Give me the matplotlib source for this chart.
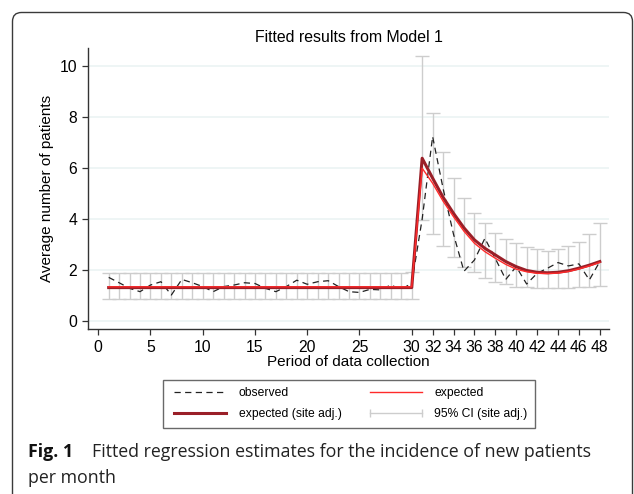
import matplotlib
matplotlib.use("Agg")
import matplotlib.pyplot as plt
from matplotlib.lines import Line2D
from matplotlib.patches import FancyBboxPatch
import numpy as np

# months 1..48
month = list(range(1, 49))

observed = [1.71, 1.50, 1.28, 1.15, 1.41, 1.54, 1.02, 1.63, 1.50, 1.35,
            1.15, 1.35, 1.41, 1.50, 1.47, 1.28, 1.15, 1.35, 1.60, 1.44,
            1.54, 1.58, 1.35, 1.15, 1.12, 1.24, 1.22, 1.41, 1.24, 1.48,
            4.00, 7.23, 5.20, 3.40, 1.95, 2.39, 3.24, 2.45, 1.63, 2.13,
            1.45, 1.87, 2.07, 2.29, 2.16, 2.24, 1.61, 2.33]

expected = [1.34] * 30 + [5.99, 5.40, 4.70, 4.09, 3.52, 3.05, 2.72, 2.46, 2.22, 2.03,
                          1.93, 1.87, 1.86, 1.88, 1.94, 2.04, 2.16, 2.30]

expected_site = [1.31] * 30 + [6.38, 5.60, 4.85, 4.22, 3.65, 3.18, 2.85, 2.59, 2.33, 2.13,
                               1.98, 1.91, 1.89, 1.91, 1.97, 2.07, 2.19, 2.33]

ci_low = [0.86] * 29 + [0.85, 3.96, 3.40, 2.94, 2.50, 2.13, 1.93, 1.70, 1.54, 1.44, 1.35,
                        1.32, 1.28, 1.28, 1.28, 1.31, 1.32, 1.35, 1.39]
ci_high = [1.90] * 29 + [1.94, 10.37, 8.17, 6.61, 5.60, 4.81, 4.22, 3.83, 3.46, 3.23, 3.05,
                         2.92, 2.81, 2.76, 2.81, 2.94, 3.09, 3.40, 3.85]

xticks = [0, 5, 10, 15, 20, 25, 30, 32, 34, 36, 38, 40, 42, 44, 46, 48]
yticks = [0, 2, 4, 6, 8, 10]

W, H = 634, 494
fig = plt.figure(figsize=(W / 100, H / 100), dpi=100)
plt.rcParams['font.family'] = ['Liberation Sans', 'DejaVu Sans']

# outer rounded frame
frame = FancyBboxPatch((0.125, -0.2), 6.2, 5.015,
                       boxstyle="round,pad=0,rounding_size=0.09",
                       transform=fig.dpi_scale_trans, facecolor='none',
                       edgecolor='#3a3a3a', linewidth=1.0, zorder=0)
fig.patches.append(frame)

ax = fig.add_axes([88 / W, 1 - 329.3 / H, (609 - 88) / W, (329.3 - 48.3) / H])
ax.set_xlim(-0.98, 48.88)
ax.set_ylim(-0.325, 10.69)

for y in yticks:
    ax.axhline(y, color='#eaf2f3', lw=1.1, zorder=0)

x = np.array(month)
site = np.array(expected_site)
ax.errorbar(x, site, yerr=[site - np.array(ci_low), np.array(ci_high) - site],
            fmt='none', ecolor='#cdcdcd', elinewidth=1.0, capsize=4.8, capthick=1.0, zorder=1)
ax.plot(month, observed, color='#222222', lw=0.9, linestyle=(0, (5, 3.5)), zorder=2)
ax.plot(month, expected_site, color='#9a1f28', lw=2.2, zorder=3)
ax.plot(month, expected, color='#ff2a2a', lw=1.0, zorder=4)

for s in ['top', 'right']:
    ax.spines[s].set_visible(False)
for s in ['left', 'bottom']:
    ax.spines[s].set_color('#333333')
    ax.spines[s].set_linewidth(1.0)

ax.set_xticks(xticks)
ax.set_yticks(yticks)
ax.tick_params(axis='both', direction='out', length=4.3, width=0.9, color='#333333',
               labelsize=11.3, pad=3.4)
ax.set_title('Fitted results from Model 1', fontsize=11.4, pad=4.5)
ax.set_xlabel('Period of data collection', fontsize=11, labelpad=0.3)
ax.set_ylabel('Average number of patients', fontsize=11, labelpad=4)

handles = [
    Line2D([], [], color='#222222', lw=0.9, linestyle=(0, (5, 3.5))),
    Line2D([], [], color='#9a1f28', lw=2.2),
    Line2D([], [], color='#ff2a2a', lw=1.0),
    Line2D([], [], color='#cdcdcd', lw=1.0, marker='|', markersize=6, markeredgewidth=1.0),
]
labels = ['observed', 'expected (site adj.)', 'expected', '95% CI (site adj.)']
leg = fig.legend(handles, labels, ncol=2, loc='upper left',
                 bbox_to_anchor=(163.3 / W, 1 - 380 / H), borderaxespad=0,
                 fontsize=8.7, frameon=True, fancybox=False, edgecolor='#444444',
                 handlelength=4.9, handletextpad=0.74, columnspacing=2.0,
                 labelspacing=0.72, borderpad=0.62, numpoints=2)
leg.get_frame().set_linewidth(1.0)

# caption
cap_font = ['Open Sans', 'DejaVu Sans']
fig.text(28.3 / W, 1 - 456.7 / H, 'Fig. 1', fontsize=12.8, fontweight='bold',
         family=cap_font, va='baseline', color='#111111')
fig.text(91.7 / W, 1 - 456.7 / H,
         'Fitted regression estimates for the incidence of new patients',
         fontsize=12.8, family=cap_font, va='baseline', color='#222222')
fig.text(28.3 / W, 1 - 483.3 / H, 'per month', fontsize=12.8,
         family=cap_font, va='baseline', color='#222222')

fig.savefig('out.png', dpi=100)
